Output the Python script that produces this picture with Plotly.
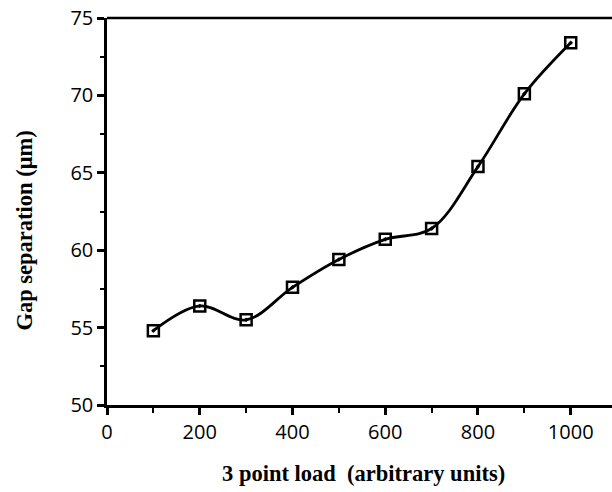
import plotly.graph_objects as go

load = [100, 200, 300, 400, 500, 600, 700, 800, 900, 1000]
gap = [54.8, 56.4, 55.5, 57.6, 59.4, 60.7, 61.4, 65.4, 70.1, 73.4]

x_ticks = [0, 200, 400, 600, 800, 1000]
y_ticks = [50, 55, 60, 65, 70, 75]

tick_font = dict(family="Open Sans", size=20, color="black")
title_font = dict(family="Liberation Serif", size=22.5, color="black")

fig = go.Figure()
fig.add_trace(go.Scatter(
    x=load, y=gap, mode="lines+markers",
    line=dict(color="black", width=2.8, shape="spline", smoothing=1.0),
    marker=dict(symbol="square-open-dot", size=11, color="black",
                line=dict(color="black", width=2.5)),
    showlegend=False,
))

fig.update_layout(
    width=612, height=492,
    margin=dict(l=107, r=0, t=18, b=87),
    plot_bgcolor="white", paper_bgcolor="white",
    xaxis=dict(
        range=[0, 1089], tickvals=x_ticks, ticktext=[str(v) for v in x_ticks],
        showgrid=False, zeroline=False, showline=True, linecolor="black",
        linewidth=2.5, mirror=False, ticks="outside", ticklen=7, tickwidth=2.5,
        tickcolor="black", tickfont=tick_font, automargin=False,
        minor=dict(tickvals=[100, 300, 500, 700, 900], ticks="outside",
                   ticklen=5, tickwidth=2, tickcolor="black", showgrid=False),
    ),
    yaxis=dict(
        range=[50, 75], tickvals=y_ticks, ticktext=[str(v) for v in y_ticks],
        showgrid=False, zeroline=False, showline=True, linecolor="black",
        linewidth=2.5, mirror=False, ticks="outside", ticklen=7, tickwidth=2.5,
        tickcolor="black", tickfont=tick_font, automargin=False,
        minor=dict(tickvals=[52.5, 57.5, 62.5, 67.5, 72.5], ticks="outside",
                   ticklen=4, tickwidth=2, tickcolor="black", showgrid=False),
    ),
    shapes=[
        dict(type="line", xref="paper", yref="paper", x0=0, x1=1, y0=1, y1=1,
             line=dict(color="black", width=2.5)),
    ],
    annotations=[
        dict(text="<b>3 point load  (arbitrary units)</b>", font=title_font,
             xref="paper", yref="paper", x=0.507, y=-0.178,
             xanchor="center", yanchor="middle", showarrow=False),
        dict(text="<b>Gap separation (μm)</b>", font=title_font,
             xref="paper", yref="paper", x=-0.163, y=0.45, textangle=-90,
             xanchor="center", yanchor="middle", showarrow=False),
    ],
)

fig.write_html(
    "out.html",
    config={"displayModeBar": False},
    post_script="document.body.style.margin='0';document.body.style.overflow='hidden';",
)
